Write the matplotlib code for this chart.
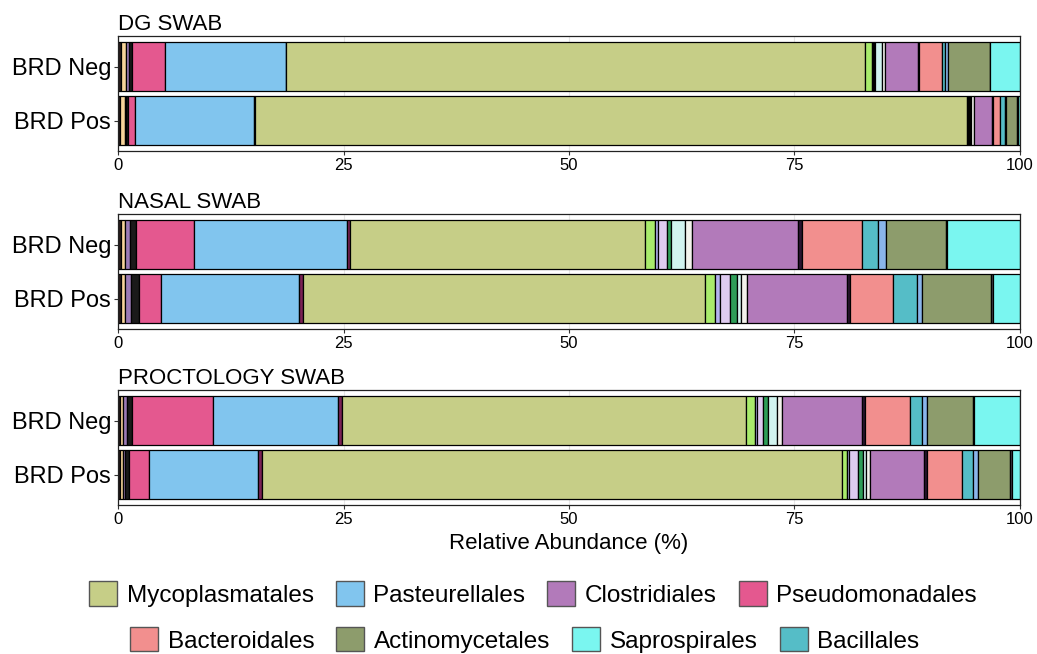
import matplotlib
matplotlib.use("Agg")
import matplotlib.pyplot as plt
from matplotlib.patches import Patch
import numpy as np

plt.rcParams['font.family'] = ['Liberation Sans', 'DejaVu Sans']

# ordem de empilhamento (esquerda -> direita)
taxa = ["Other 1", "Other 2", "Other 3", "Other 4", "Pseudomonadales", "Pasteurellales", "Other 5",
        "Mycoplasmatales", "Other 6", "Other 7", "Other 8", "Other 9", "Other 10", "Other 11",
        "Clostridiales", "Other 12", "Bacteroidales", "Bacillales", "Other 13", "Actinomycetales",
        "Other 14", "Saprospirales"]
cores = ["#2b1d1d", "#F7D49A", "#9C7BB5", "#1a1a1a", "#E4588F", "#81C5EE", "#7B2255",
         "#C6CE87", "#A9EB6C", "#B4B3F0", "#DECBEF", "#2E9E58", "#D2F4EF", "#F3F3EC",
         "#B27ABA", "#2a1530", "#F28F8E", "#55BDC7", "#8AB5EB", "#8D9C6C",
         "#4e4a5a", "#7AF6F0"]

dg_neg = [0.35, 0.55, 0.3, 0.35, 3.65, 13.4, 0.05, 64.2, 0.7, 0.1, 0.2, 0.1, 0.7, 0.35,
          3.7, 0.15, 2.5, 0.3, 0.4, 4.6, 0.05, 3.3]
dg_pos = [0.25, 0.55, 0.1, 0.2, 0.8, 13.2, 0.1, 78.9, 0.1, 0.05, 0.1, 0.15, 0.1, 0.3,
          2.0, 0.1, 0.8, 0.5, 0.1, 1.3, 0.05, 0.25]
nasal_neg = [0.35, 0.4, 0.6, 0.65, 6.4, 17.0, 0.3, 32.7, 1.1, 0.4, 1.0, 0.4, 1.6, 0.7,
             11.8, 0.4, 6.7, 1.8, 0.9, 6.6, 0.1, 8.1]
nasal_pos = [0.35, 0.4, 0.7, 0.85, 2.5, 15.3, 0.4, 44.6, 1.1, 0.5, 1.1, 0.8, 0.5, 0.6,
             11.1, 0.4, 4.7, 2.7, 0.5, 7.7, 0.2, 3.0]
proct_neg = [0.25, 0.35, 0.4, 0.6, 8.9, 13.9, 0.4, 44.8, 1.0, 0.2, 0.7, 0.6, 1.0, 0.5,
             8.9, 0.3, 5.0, 1.3, 0.6, 5.1, 0.05, 5.15]
proct_pos = [0.2, 0.3, 0.3, 0.4, 2.2, 12.1, 0.5, 64.3, 0.5, 0.2, 1.0, 0.6, 0.3, 0.5,
             6.0, 0.3, 3.9, 1.2, 0.5, 3.6, 0.2, 0.9]

paineis = ["DG SWAB", "NASAL SWAB", "PROCTOLOGY SWAB"]
grupos = ["BRD Neg", "BRD Pos"]
dados = [[dg_neg, dg_pos], [nasal_neg, nasal_pos], [proct_neg, proct_pos]]
ticks = [0, 25, 50, 75, 100]

legenda_1 = ["Mycoplasmatales", "Pasteurellales", "Clostridiales", "Pseudomonadales"]
legenda_2 = ["Bacteroidales", "Actinomycetales", "Saprospirales", "Bacillales"]

fig = plt.figure(figsize=(10.37, 6.54), dpi=100)
bottoms = [0.7691, 0.4969, 0.2278]

for i, titulo in enumerate(paineis):
    ax = fig.add_axes([0.1138, bottoms[i], 0.8698, 0.1758])
    for j, grupo in enumerate(grupos):
        vals = np.array(dados[i][j])
        left = np.concatenate([[0], np.cumsum(vals)[:-1]])
        ax.barh(j, vals, left=left, height=0.9, color=cores, edgecolor="black", linewidth=0.9)
    ax.set_xlim(0, 100)
    ax.set_ylim(1.565, -0.565)
    ax.set_yticks([0, 1])
    ax.set_yticklabels(grupos, fontsize=17)
    ax.set_xticks(ticks)
    ax.set_xticklabels([str(t) for t in ticks], fontsize=12)
    ax.grid(axis="x", color="#e6e6e6", linewidth=0.8)
    ax.set_axisbelow(True)
    ax.tick_params(length=3, width=0.8, color="#333333", pad=2)
    for s in ax.spines.values():
        s.set_color("#222222")
        s.set_linewidth(0.9)
    ax.set_title(titulo, loc="left", fontsize=16, pad=4)
    if i == 2:
        ax.set_xlabel("Relative Abundance (%)", fontsize=16, labelpad=4)

for nomes, y, x in [(legenda_1, 0.0917, 0.514), (legenda_2, 0.0214, 0.506)]:
    handles = [Patch(facecolor=cores[taxa.index(n)], edgecolor="#555555", linewidth=1) for n in nomes]
    fig.legend(handles, nomes, loc="center", bbox_to_anchor=(x, y), ncol=4, frameon=False,
               fontsize=17.5, handlelength=1.15, handleheight=1.15, handletextpad=0.4,
               columnspacing=0.9, borderaxespad=0, borderpad=0)

fig.savefig("out.png", dpi=100)
